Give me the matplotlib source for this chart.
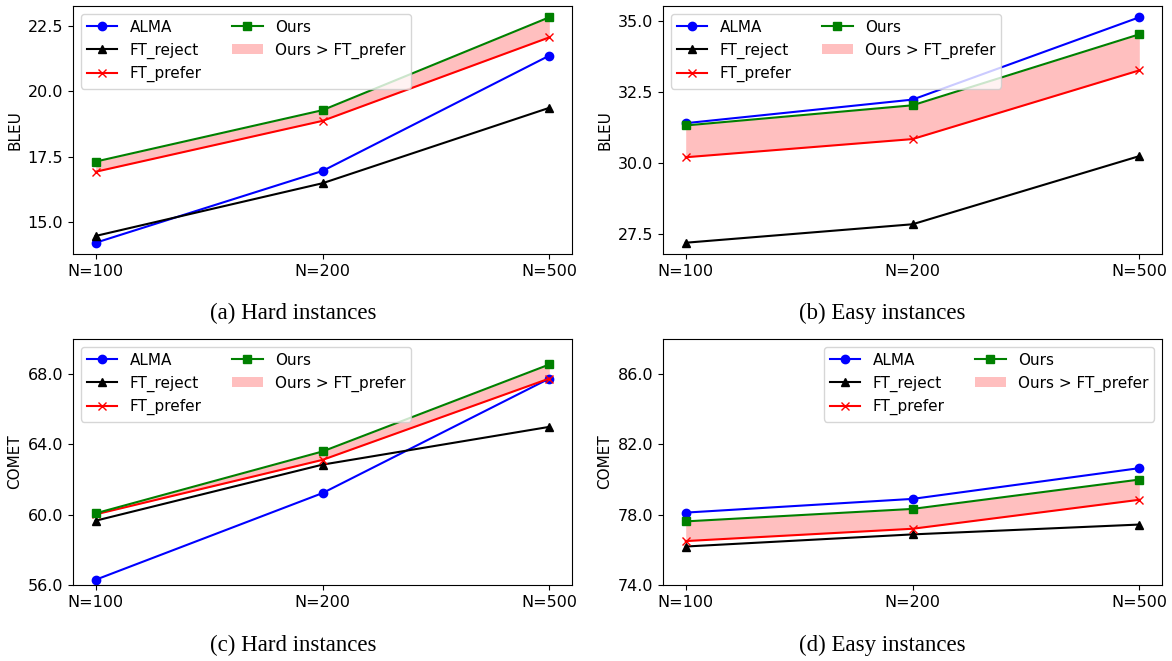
import matplotlib.pyplot as plt

# x axis: training set size
sizes = ['N=100', 'N=200', 'N=500']
xs = [0, 1, 2]

# (a) BLEU, hard instances
bleu_hard_alma = [14.2, 16.95, 21.37]
bleu_hard_reject = [14.46, 16.48, 19.37]
bleu_hard_prefer = [16.92, 18.87, 22.07]
bleu_hard_ours = [17.31, 19.28, 22.84]

# (b) BLEU, easy instances
bleu_easy_alma = [31.41, 32.24, 35.14]
bleu_easy_reject = [27.2, 27.85, 30.25]
bleu_easy_prefer = [30.21, 30.85, 33.27]
bleu_easy_ours = [31.33, 32.04, 34.54]

# (c) COMET, hard instances
comet_hard_alma = [56.3, 61.23, 67.75]
comet_hard_reject = [59.66, 62.85, 65.0]
comet_hard_prefer = [60.02, 63.12, 67.75]
comet_hard_ours = [60.08, 63.6, 68.55]

# (d) COMET, easy instances
comet_easy_alma = [78.12, 78.9, 80.65]
comet_easy_reject = [76.19, 76.88, 77.44]
comet_easy_prefer = [76.5, 77.2, 78.85]
comet_easy_ours = [77.62, 78.33, 80.0]

captions = ['(a) Hard instances', '(b) Easy instances',
            '(c) Hard instances', '(d) Easy instances']

fig = plt.figure(figsize=(11.72, 6.61), dpi=100)
plt.rcParams['font.size'] = 11.5

W = 499 / 1172
pos = [
    [73 / 1172, 1 - 254 / 661, W, 248 / 661],
    [663 / 1172, 1 - 254 / 661, W, 248 / 661],
    [73 / 1172, 1 - 585 / 661, W, 246 / 661],
    [663 / 1172, 1 - 585 / 661, W, 246 / 661],
]

panels = [
    (bleu_hard_alma, bleu_hard_reject, bleu_hard_prefer, bleu_hard_ours, 'BLEU'),
    (bleu_easy_alma, bleu_easy_reject, bleu_easy_prefer, bleu_easy_ours, 'BLEU'),
    (comet_hard_alma, comet_hard_reject, comet_hard_prefer, comet_hard_ours, 'COMET'),
    (comet_easy_alma, comet_easy_reject, comet_easy_prefer, comet_easy_ours, 'COMET'),
]

for i, (alma, rej, pref, ours, ylab) in enumerate(panels):
    ax = fig.add_axes(pos[i])
    ax.plot(xs, alma, 'b-o', label='ALMA')
    ax.plot(xs, rej, 'k-^', label='FT_reject')
    ax.plot(xs, pref, 'r-x', label='FT_prefer')
    ax.plot(xs, ours, 'g-s', label='Ours')
    ax.fill_between(xs, pref, ours, color='red', alpha=0.25, linewidth=0,
                    label='Ours > FT_prefer')
    ax.set_xticks(xs)
    ax.set_xticklabels(sizes)
    ax.set_ylabel(ylab, fontsize=11)
    if ylab == 'BLEU':
        ax.yaxis.set_major_locator(plt.MultipleLocator(2.5))
    else:
        lo = 56 if i == 2 else 74
        ax.set_ylim(lo, lo + 14)
        ax.set_yticks([lo, lo + 4, lo + 8, lo + 12])
    ax.yaxis.set_major_formatter(plt.FormatStrFormatter('%.1f'))
    loc = 'upper right' if i == 3 else 'upper left'
    ax.legend(loc=loc, ncol=2, fontsize=11)

cx = [0.25, 0.7526, 0.25, 0.7526]
cy = [1 - 313 / 661, 1 - 313 / 661, 1 - 645 / 661, 1 - 645 / 661]
for i in range(4):
    fig.text(cx[i], cy[i], captions[i], ha='center', va='center',
             family='Liberation Serif', fontsize=16.5)

fig.savefig('out.png', dpi=100)
